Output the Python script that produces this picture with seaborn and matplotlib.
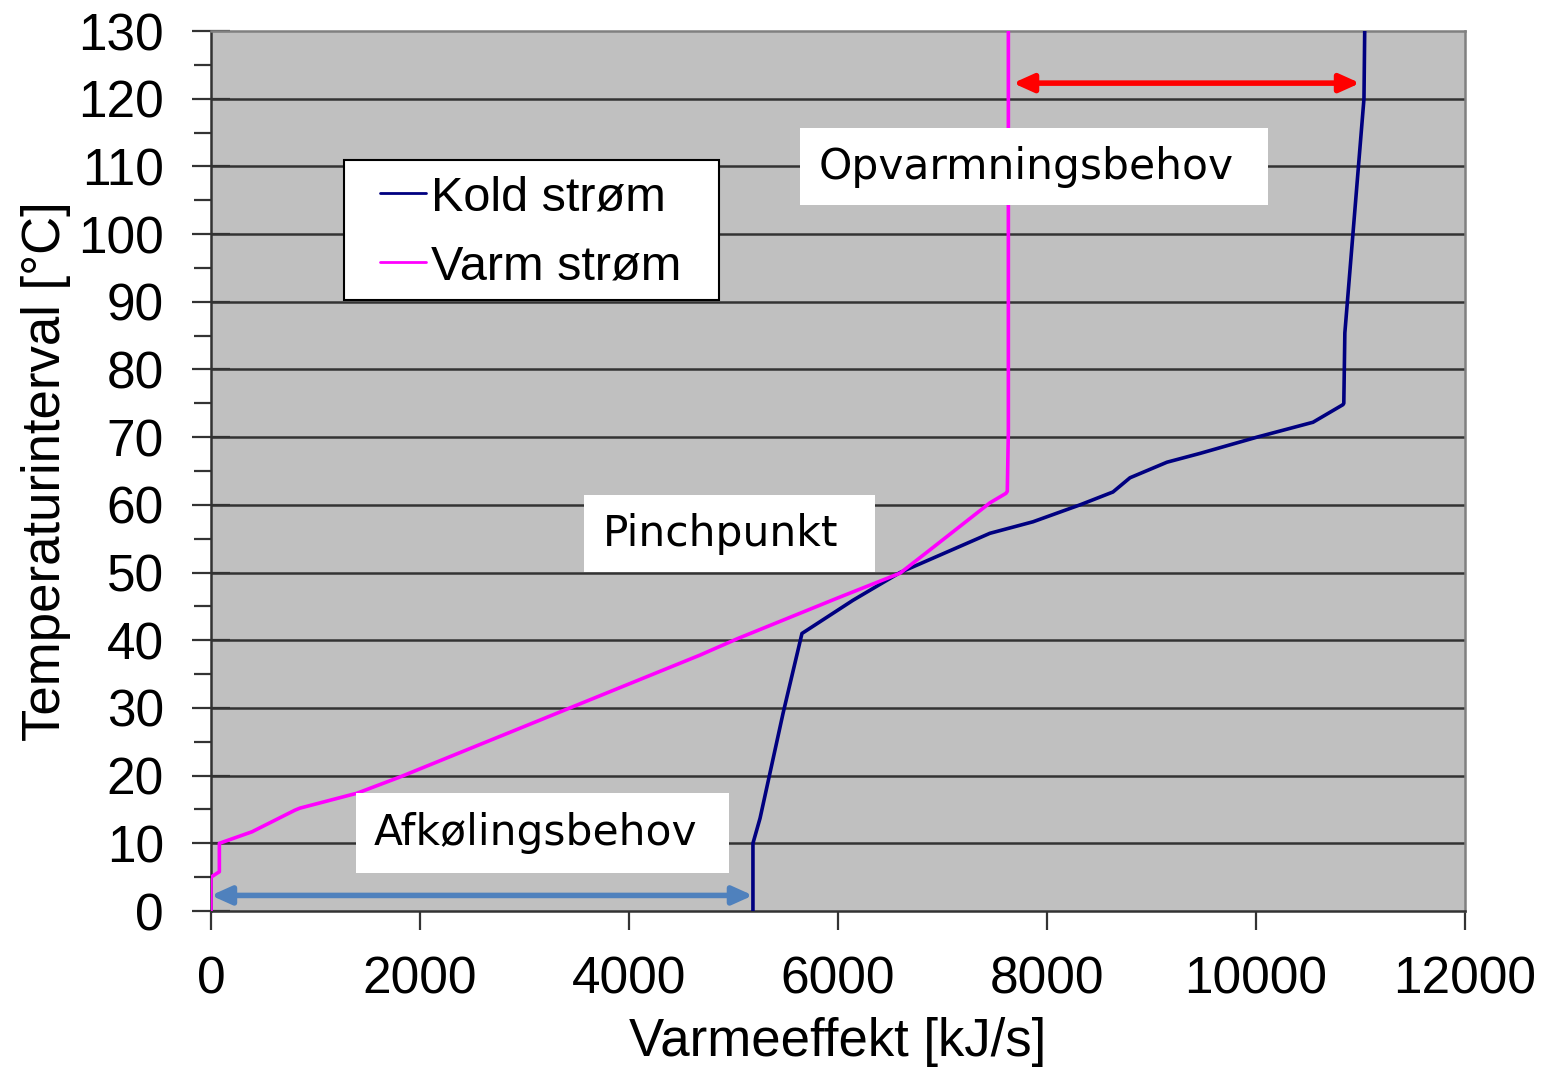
import matplotlib
matplotlib.use("Agg")
import matplotlib.pyplot as plt
import seaborn as sns
import pandas as pd
from matplotlib.ticker import MultipleLocator

# Data
kold_x = [5186, 5186, 5254, 5474, 5655, 6143, 6593, 7454, 7866, 8316, 8631, 8794,
          9148, 9464, 10009, 10545, 10832, 10840, 10850, 11033, 11040]
kold_y = [0, 10, 13.7, 29.2, 41.0, 45.9, 50.0, 55.8, 57.5, 60.0, 61.9, 64.0,
          66.3, 67.6, 70.0, 72.2, 74.8, 75.0, 85.4, 120.0, 130.0]

varm_x = [0, 0, 80, 80, 392, 804, 852, 1397, 1809, 3435, 4679, 5033, 5990,
          6593, 6851, 7454, 7607, 7620, 7630, 7630]
varm_y = [0, 5, 5.8, 10, 11.7, 14.9, 15.2, 17.4, 19.8, 30.0, 37.8, 40.2, 46.2,
          49.9, 53.0, 60.3, 61.7, 62.0, 70.8, 130.0]

series_names = ["Kold strøm", "Varm strøm"]
annot_texts = ["Opvarmningsbehov", "Pinchpunkt", "Afkølingsbehov"]
heat_arrow_x = [7675, 10995]
heat_arrow_y = 122.3
cool_arrow_x = [0, 5186]
cool_arrow_y = 2.3

df = pd.concat([
    pd.DataFrame({"x": kold_x, "y": kold_y, "s": series_names[0]}),
    pd.DataFrame({"x": varm_x, "y": varm_y, "s": series_names[1]}),
])

sns.set_theme(style="white")
plt.rcParams["font.family"] = ["Liberation Sans", "DejaVu Sans"]
plt.rcParams["text.color"] = "black"
plt.rcParams["axes.labelcolor"] = "black"
plt.rcParams["xtick.color"] = "black"
plt.rcParams["ytick.color"] = "black"

fig = plt.figure(figsize=(15.48, 10.69), dpi=100)
ax = fig.add_axes([0.1363, 0.1478, 0.8101, 0.8232])
ax.set_facecolor("#C0C0C0")

colors = {series_names[0]: "#000080", series_names[1]: "#FF00FF"}
for name in series_names:
    sub = df[df["s"] == name]
    sns.lineplot(x=sub["x"].values, y=sub["y"].values, sort=False, estimator=None,
                 color=colors[name], lw=2.6, ax=ax, label=name, zorder=3)

ax.set_xlim(0, 12000)
ax.set_ylim(0, 130)
ax.xaxis.set_major_locator(MultipleLocator(2000))
ax.yaxis.set_major_locator(MultipleLocator(10))
ax.yaxis.set_minor_locator(MultipleLocator(5))
ax.grid(False)
for yv in range(10, 130, 10):
    ax.axhline(yv, color="#333333", lw=1.8, zorder=1)

for side in ["left", "bottom"]:
    ax.spines[side].set_color("#333333")
    ax.spines[side].set_linewidth(1.8)
for side in ["top", "right"]:
    ax.spines[side].set_color("#808080")
    ax.spines[side].set_linewidth(1.8)

ax.tick_params(axis="y", which="major", direction="inout", length=28, width=1.6,
               color="#333333", labelsize=37, pad=20, left=True, labelcolor="black")
ax.tick_params(axis="y", which="minor", direction="out", length=12, width=1.6,
               color="#333333", left=True)
ax.tick_params(axis="x", which="major", direction="out", length=14, width=1.6,
               color="#333333", labelsize=37, pad=18, bottom=True, labelcolor="black")

ax.set_xlabel("Varmeeffekt [kJ/s]", fontsize=38, labelpad=9, color="black")
ax.set_ylabel("Temperaturinterval [°C]", fontsize=38, labelpad=5, color="black")

# arrows
ax.annotate("", xy=(heat_arrow_x[0], heat_arrow_y), xytext=(heat_arrow_x[1], heat_arrow_y),
            arrowprops=dict(arrowstyle="<|-|>,head_length=1.0,head_width=0.45",
                            color="#FF0000", lw=4, shrinkA=0, shrinkB=0), zorder=4)
ax.annotate("", xy=(cool_arrow_x[0], cool_arrow_y), xytext=(cool_arrow_x[1], cool_arrow_y),
            arrowprops=dict(arrowstyle="<|-|>,head_length=1.0,head_width=0.45",
                            color="#4F81BD", lw=4, shrinkA=0, shrinkB=0), zorder=4)

# text boxes
box_font = ["DejaVu Sans"]
px2x = lambda p: (p - 211) * 12000 / 1254
px2y = lambda p: (911 - p) * 130 / 880

def tbox(x0, y0, x1, y1, txt, tx):
    ax.add_patch(plt.Rectangle((x0, y0), x1 - x0, y1 - y0, facecolor="white",
                               edgecolor="none", zorder=5))
    ax.text(tx, (y0 + y1) / 2, txt, fontsize=30.5, family=box_font, color="black",
            va="center", ha="left", zorder=6)

tbox(px2x(800), px2y(205), px2x(1268), px2y(128), annot_texts[0], px2x(819))
tbox(px2x(584), px2y(572), px2x(875), px2y(495), annot_texts[1], px2x(603))
tbox(px2x(356), px2y(873), px2x(729), px2y(793), annot_texts[2], px2x(374))

# legend box + legend
ax.add_patch(plt.Rectangle((px2x(344), px2y(300)), px2x(719) - px2x(344),
                           px2y(160) - px2y(300), facecolor="white",
                           edgecolor="black", lw=1.5, zorder=6))
leg = ax.legend(loc="upper left", bbox_to_anchor=((380 - 211) / 1254, (911 - 175) / 880),
                fontsize=35, frameon=False,
                handlelength=0.95, handletextpad=0.1, borderpad=0,
                labelspacing=0.5, borderaxespad=0)
leg.set_zorder(7)
for l in leg.get_lines():
    l.set_linewidth(2)
for t in leg.get_texts():
    t.set_color("black")

fig.savefig("out.png", dpi=100)
